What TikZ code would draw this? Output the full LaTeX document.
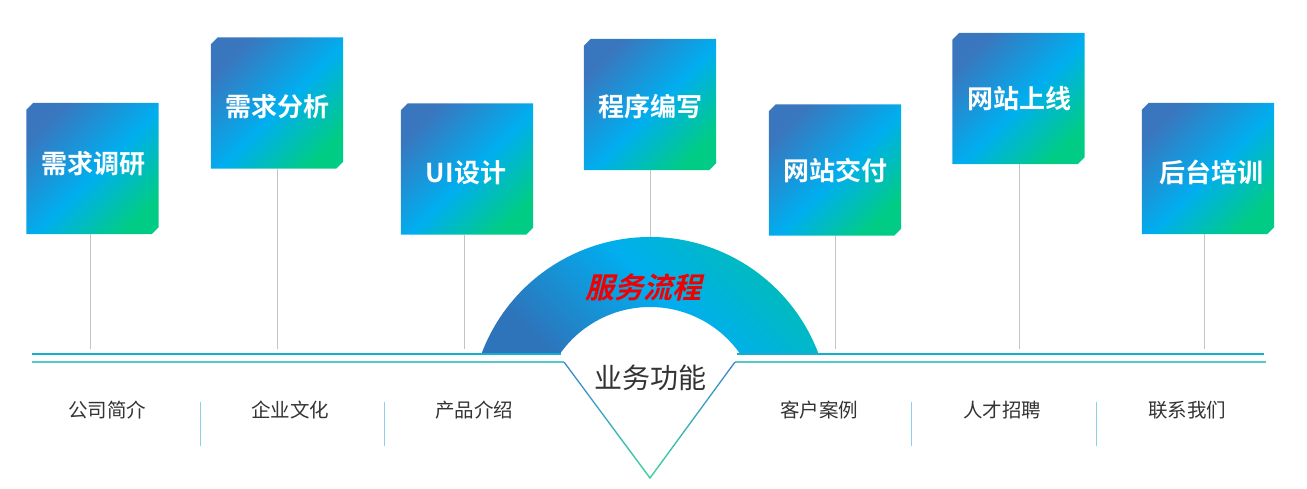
\documentclass[tikz,border=0pt]{standalone}
\usepackage{fontspec}
\newfontfamily\cjk{Noto Sans CJK SC}
\newfontfamily\cjkb{Noto Sans CJK SC Bold}
\newfontfamily\cjkslant[FakeSlant=0.25]{Noto Sans CJK SC Bold}
\definecolor{bA}{HTML}{3A76BE}
\definecolor{bB}{HTML}{00AEEF}
\definecolor{bC}{HTML}{00CC86}
\definecolor{aA}{HTML}{2E74BA}
\definecolor{aB}{HTML}{00AEEF}
\definecolor{aC}{HTML}{00BFAE}
\definecolor{lineA}{HTML}{14AECF}
\definecolor{lineB}{HTML}{55C8C8}
\definecolor{vA}{HTML}{3A84D2}
\definecolor{vB}{HTML}{1BB4E6}
\definecolor{vC}{HTML}{3CD6A0}
\definecolor{stemgray}{HTML}{C4C4C4}
\definecolor{sepblue}{HTML}{8CCFEE}
\definecolor{txtgray}{HTML}{333333}
\definecolor{titlered}{HTML}{F00000}
\pgfdeclarehorizontalshading{boxsh}{100bp}{color(0bp)=(bA); color(25bp)=(bA); color(52bp)=(bB); color(75bp)=(bC); color(100bp)=(bC)}
\pgfdeclarehorizontalshading{arcsh}{100bp}{color(0bp)=(aA); color(25bp)=(aA); color(50bp)=(aB); color(75bp)=(aC); color(100bp)=(aC)}
\tikzset{
  box/.style={rectangle, minimum width=132pt, minimum height=131pt, inner sep=0pt, draw=none},
  boxfill/.style={draw=none, shading=boxsh, shading angle=-45},
  boxtxt/.style={text=white, font=\cjkb\fontsize{26}{30}\selectfont, inner sep=0pt},
  stem/.style={draw=stemgray, line width=1pt},
  menu/.style={text=txtgray, font=\cjk\fontsize{19.5}{23}\selectfont, inner sep=0pt},
  sepline/.style={draw=sepblue, line width=0.9pt},
}
\begin{document}
\begin{tikzpicture}[x=1pt,y=1pt]
\useasboundingbox (0,0) rectangle (1307,-488);
% arc (half ring)
\shade[shading=arcsh, shading angle=45]
  (481.4,-354) arc[start angle=159.51, end angle=20.49, radius=180]
  -- (740.2,-354) arc[start angle=34.94, end angle=145.06, radius=110] -- cycle;
% horizontal lines
\coordinate (L1a) at (32,-354); \coordinate (L1b) at (561,-354);
\coordinate (L1c) at (737,-354); \coordinate (L1d) at (1264,-354);
\coordinate (L2a) at (32,-362); \coordinate (V1) at (564,-362);
\coordinate (V2) at (650,-478); \coordinate (V3) at (735,-362);
\coordinate (L2d) at (1266,-362);
\draw[lineA, line width=1.3pt] (L1a) -- (L1b);
\draw[lineA, line width=1.3pt] (L1c) -- (L1d);
\draw[lineB, line width=1.3pt] (L2a) -- (V1);
\draw[lineB, line width=1.3pt] (V3) -- (L2d);
\shade[top color=vA, middle color=vB, bottom color=vC]
  (563.2,-362) -- (650,-479.2) -- (735.8,-362) -- (734.2,-362) -- (650,-476.8) -- (564.8,-362) -- cycle;
% boxes
\node[box] (b1) at (92.5,-168.5) {};
\node[box] (b2) at (277,-103) {};
\node[box] (b3) at (467,-169) {};
\node[box] (b4) at (650,-104.5) {};
\node[box] (b5) at (835,-170) {};
\node[box] (b6) at (1018.5,-98.5) {};
\node[box] (b7) at (1208,-168.5) {};
\foreach \b in {b1,b2,b3,b4,b5,b6,b7}{
  \shade[boxfill] ([xshift=7pt]\b.north west) -- (\b.north east) -- ([yshift=7pt]\b.south east)
    -- ([xshift=-7pt]\b.south east) -- (\b.south west) -- ([yshift=-7pt]\b.north west) -- cycle;
}
\node[boxtxt] (t1) at (93,-164) {需求调研};
\node[boxtxt] (t2) at (277,-107) {需求分析};
\node[boxtxt] (t3) at (466,-173) {UI设计};
\node[boxtxt] (t4) at (650,-107) {程序编写};
\node[boxtxt] (t5) at (835,-170) {网站交付};
\node[boxtxt] (t6) at (1019,-99) {网站上线};
\node[boxtxt] (t7) at (1211,-172) {后台培训};
% stems
\coordinate (e1) at (90,-349);
\coordinate (e2) at (277,-349);
\coordinate (e3) at (464,-349);
\coordinate (e4) at (650,-237);
\coordinate (e5) at (835,-349);
\coordinate (e6) at (1019,-349);
\coordinate (e7) at (1204,-349);
\draw[stem] (e1 |- b1.south) -- (e1);
\draw[stem] (e2 |- b2.south) -- (e2);
\draw[stem] (e3 |- b3.south) -- (e3);
\draw[stem] (e4 |- b4.south) -- (e4);
\draw[stem] (e5 |- b5.south) -- (e5);
\draw[stem] (e6 |- b6.south) -- (e6);
\draw[stem] (e7 |- b7.south) -- (e7);
% center texts
\node[text=titlered, font=\cjkslant\fontsize{29}{34}\selectfont, inner sep=0pt] (svc) at (643,-287) {服务流程};
\node[text=txtgray, font=\cjk\fontsize{28}{33}\selectfont, inner sep=0pt] (biz) at (650,-378) {业务功能};
% bottom menu
\node[menu] (m1) at (107,-410) {公司简介};
\node[menu] (m2) at (290,-410) {企业文化};
\node[menu] (m3) at (474,-410) {产品介绍};
\node[menu] (m4) at (819,-410) {客户案例};
\node[menu] (m5) at (1002,-410) {人才招聘};
\node[menu] (m6) at (1187,-410) {联系我们};
\draw[sepline] (200,-402) -- (200,-446);
\draw[sepline] (384,-402) -- (384,-446);
\draw[sepline] (911,-402) -- (911,-446);
\draw[sepline] (1096,-402) -- (1096,-446);
\end{tikzpicture}
\end{document}
